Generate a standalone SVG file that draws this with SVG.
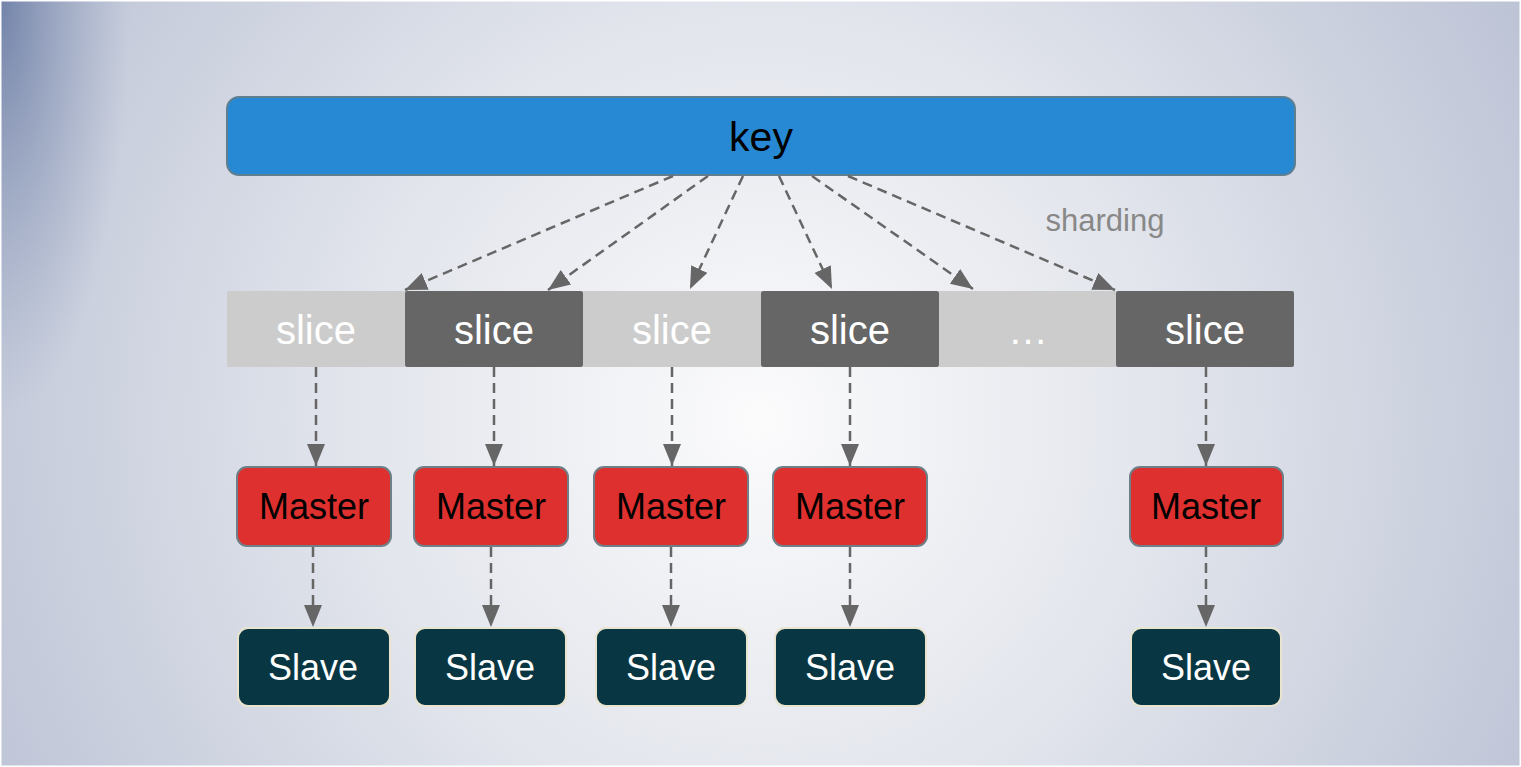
<svg xmlns="http://www.w3.org/2000/svg" width="1521" height="767" viewBox="0 0 1521 767">
<defs>
<radialGradient id="bg" cx="760" cy="420" r="900" gradientUnits="userSpaceOnUse">
<stop offset="0" stop-color="#FBFBFC"/>
<stop offset="0.45" stop-color="#E2E5EC"/>
<stop offset="1" stop-color="#BAC1D4"/>
</radialGradient>
<radialGradient id="tl" cx="0" cy="0" r="260" gradientUnits="userSpaceOnUse" gradientTransform="scale(0.5,1.6)">
<stop offset="0" stop-color="#6A7CA4" stop-opacity="0.9"/>
<stop offset="1" stop-color="#8A98B8" stop-opacity="0"/>
</radialGradient>
<marker id="ah" markerUnits="userSpaceOnUse" markerWidth="24" markerHeight="20" refX="22" refY="9" orient="auto">
<path d="M0,0 L22,9 L0,18 z" fill="#666666"/>
</marker>
<style>
.key{fill:#2789D4;stroke:#5F7F8F;stroke-width:2}
.sl{fill:#CCCCCC}
.sd{fill:#666666}
.st{font-family:"Liberation Sans",Arial,sans-serif;font-size:40px;fill:#FFFFFF;text-anchor:middle}
.ms{fill:#DD302F;stroke:#6F7F88;stroke-width:2}
.mt{font-family:"Liberation Sans",Arial,sans-serif;font-size:36px;fill:#000000;text-anchor:middle}
.sv{fill:#083642;stroke:#E8E4D0;stroke-width:2}
.vt{font-family:"Liberation Sans",Arial,sans-serif;font-size:36px;fill:#FFFFFF;text-anchor:middle}
.c{fill:none;stroke:#666666;stroke-width:2.5;stroke-dasharray:10,6;marker-end:url(#ah)}
</style>
</defs>
<rect x="0" y="0" width="1521" height="767" fill="url(#bg)"/>
<rect x="0" y="0" width="200" height="500" fill="url(#tl)"/>
<rect x="0" y="0" width="1521" height="767" fill="none" stroke="#FFFFFF" stroke-width="3"/>

<g id="key">
<rect class="key" x="227" y="97" width="1068" height="78" rx="12"/>
<text x="761" y="151" font-family="Liberation Sans,Arial,sans-serif" font-size="41" fill="#000" text-anchor="middle">key</text>
</g>

<g id="slice1"><rect class="sl" x="227" y="291" width="178" height="76"/><text class="st" x="316" y="344">slice</text></g>
<g id="slice2"><rect class="sd" x="405" y="291" width="178" height="76" rx="2"/><text class="st" x="494" y="344">slice</text></g>
<g id="slice3"><rect class="sl" x="583" y="291" width="178" height="76"/><text class="st" x="672" y="344">slice</text></g>
<g id="slice4"><rect class="sd" x="761" y="291" width="178" height="76" rx="2"/><text class="st" x="850" y="344">slice</text></g>
<g id="slice5"><rect class="sl" x="939" y="291" width="177" height="76"/><text class="st" x="1028" y="344" font-size="34" fill="#F2F2F2">…</text></g>
<g id="slice6"><rect class="sd" x="1116" y="291" width="178" height="76" rx="2"/><text class="st" x="1205" y="344">slice</text></g>

<g id="master1"><rect class="ms" x="237" y="467" width="154" height="79" rx="10"/><text class="mt" x="314" y="519">Master</text></g>
<g id="master2"><rect class="ms" x="414" y="467" width="154" height="79" rx="10"/><text class="mt" x="491" y="519">Master</text></g>
<g id="master3"><rect class="ms" x="594" y="467" width="154" height="79" rx="10"/><text class="mt" x="671" y="519">Master</text></g>
<g id="master4"><rect class="ms" x="773" y="467" width="154" height="79" rx="10"/><text class="mt" x="850" y="519">Master</text></g>
<g id="master5"><rect class="ms" x="1130" y="467" width="153" height="79" rx="10"/><text class="mt" x="1206" y="519">Master</text></g>

<g id="slave1"><rect class="sv" x="238" y="628" width="152" height="78" rx="10"/><text class="vt" x="313" y="680">Slave</text></g>
<g id="slave2"><rect class="sv" x="415" y="628" width="151" height="78" rx="10"/><text class="vt" x="490" y="680">Slave</text></g>
<g id="slave3"><rect class="sv" x="596" y="628" width="151" height="78" rx="10"/><text class="vt" x="671" y="680">Slave</text></g>
<g id="slave4"><rect class="sv" x="775" y="628" width="151" height="78" rx="10"/><text class="vt" x="850" y="680">Slave</text></g>
<g id="slave5"><rect class="sv" x="1131" y="628" width="150" height="78" rx="10"/><text class="vt" x="1206" y="680">Slave</text></g>

<g id="connectors">
<line class="c" x1="673" y1="176" x2="405" y2="290"/>
<line class="c" x1="708" y1="176" x2="548" y2="290"/>
<line class="c" x1="743" y1="176" x2="690" y2="289"/>
<line class="c" x1="779" y1="176" x2="832" y2="289"/>
<line class="c" x1="812" y1="176" x2="973" y2="289"/>
<line class="c" x1="848" y1="176" x2="1115" y2="290"/>
<line class="c" x1="316" y1="367" x2="316" y2="466"/>
<line class="c" x1="494" y1="367" x2="494" y2="466"/>
<line class="c" x1="672" y1="367" x2="672" y2="466"/>
<line class="c" x1="850" y1="367" x2="850" y2="466"/>
<line class="c" x1="1206" y1="367" x2="1206" y2="466"/>
<line class="c" x1="313" y1="547" x2="313" y2="627"/>
<line class="c" x1="491" y1="547" x2="491" y2="627"/>
<line class="c" x1="671" y1="547" x2="671" y2="627"/>
<line class="c" x1="850" y1="547" x2="850" y2="627"/>
<line class="c" x1="1206" y1="547" x2="1206" y2="627"/>
<text x="1105" y="231" font-family="Liberation Sans,Arial,sans-serif" font-size="31" fill="#888888" text-anchor="middle">sharding</text>
</g>
</svg>
